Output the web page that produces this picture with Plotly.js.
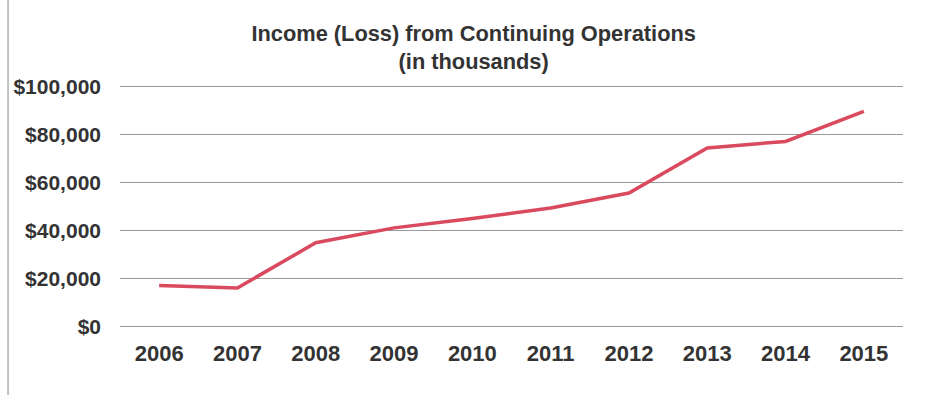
<!DOCTYPE html>
<html>
<head>
<meta charset="utf-8">
<script src="https://cdn.plot.ly/plotly-3.0.1.min.js"></script>
<style>html,body{margin:0;padding:0;background:#fff;}#chart{width:927px;height:395px;}</style>
</head>
<body>
<div id="chart"></div>
<script>
const years = ["2006","2007","2008","2009","2010","2011","2012","2013","2014","2015"];
const income = [17100, 16100, 34900, 41100, 45000, 49400, 55600, 74400, 77100, 89600];
const yTickVals = [0, 20000, 40000, 60000, 80000, 100000];
const yTickText = ["$0","$20,000","$40,000","$60,000","$80,000","$100,000"];
const titleLine1 = "Income (Loss) from Continuing Operations";
const titleLine2 = "(in thousands)";

const FONT = "Liberation Sans, Arial, sans-serif";
const trace = {
  x: years, y: income, type: "scatter", mode: "lines",
  line: {color: "#d94a5e", width: 3.5}, hoverinfo: "skip"
};
const layout = {
  width: 927, height: 395,
  margin: {l: 120, r: 24, t: 84, b: 66},
  paper_bgcolor: "#ffffff", plot_bgcolor: "#ffffff",
  showlegend: false,
  font: {family: FONT, color: "#333333"},
  title: {
    text: "<b>" + titleLine1 + "<br>" + titleLine2 + "</b>",
    font: {size: 21.8, color: "#333333", family: FONT},
    xref: "container", x: 0.511, xanchor: "center",
    yref: "container", y: 0.897, yanchor: "middle"
  },
  xaxis: {
    type: "category", range: [-0.5, 9.5],
    showgrid: false, zeroline: false, showline: false, ticks: "",
    tickfont: {size: 22, color: "#333333", family: FONT, weight: "bold"},
    ticklabelstandoff: 9, fixedrange: true
  },
  yaxis: {
    range: [-1000, 101000], tickvals: yTickVals, ticktext: yTickText,
    showgrid: true, gridcolor: "#9a9a9a", gridwidth: 1,
    zeroline: false, showline: false, ticks: "",
    tickfont: {size: 21, color: "#333333", family: FONT, weight: "bold"},
    ticklabelstandoff: 18, fixedrange: true
  },
  shapes: [
    {type: "line", xref: "paper", yref: "paper", x0: -0.143, x1: -0.143, y0: -0.5, y1: 1.6,
     line: {color: "#888888", width: 1}}
  ]
};
Plotly.newPlot("chart", [trace], layout, {displayModeBar: false, staticPlot: true});
</script>
</body>
</html>
